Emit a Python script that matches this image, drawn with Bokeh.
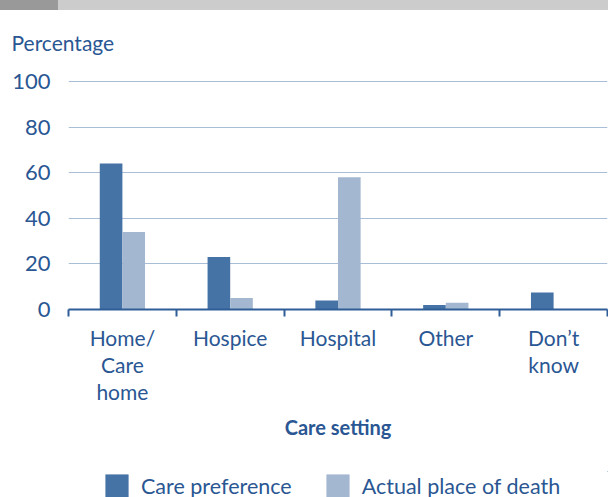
from bokeh.plotting import figure
from bokeh.layouts import column
from bokeh.models import (FixedTicker, Range1d, Legend, LegendItem,
                          ColumnDataSource, Div)
from bokeh.transform import dodge
from bokeh.embed import file_html
from bokeh.resources import INLINE

categories = ["Home/\nCare\nhome", "Hospice", "Hospital", "Other", "Don\u2019t\nknow"]
care_preference = [64, 23, 4, 2, 7.5]
actual_place_of_death = [34, 5, 58, 3, 0]
y_ticks = [0, 20, 40, 60, 80, 100]
series_names = ["Care preference", "Actual place of death"]

DARK = "#4673A5"
LIGHT = "#A3B8D0"
TEXT = "#2A5793"
AXIS = "#2F5E97"
GRID = "#A9BDD7"
FONT = "Lato"

n = len(categories)
centers = [i + 0.5 for i in range(n)]

# decorative strip at the top of the page
strip = Div(width=608, height=10, margin=0, styles={
    "background": "linear-gradient(to right, #999999 0px, #999999 58px, #CCCCCC 58px, #CCCCCC 100%)"})

p = figure(width=608, height=461, output_backend="svg", toolbar_location=None,
           x_range=Range1d(0, n), y_range=Range1d(0, 104.4),
           min_border_left=68, min_border_right=1, min_border_top=61,
           min_border_bottom=162)
p.outline_line_color = None
p.background_fill_color = "white"
p.border_fill_color = "white"

p.title.text = "Percentage"
p.title.align = "left"
p.title.offset = -57
p.title.standoff = 34
p.title.text_font = FONT
p.title.text_font_style = "normal"
p.title.text_font_size = "21px"
p.title.text_color = TEXT

src = ColumnDataSource(dict(x=centers, pref=care_preference, actual=actual_place_of_death))
r1 = p.vbar(x=dodge("x", -0.105), top="pref", width=0.21, source=src,
            fill_color=DARK, line_color=None)
r2 = p.vbar(x=dodge("x", 0.105), top="actual", width=0.21, source=src,
            fill_color=LIGHT, line_color=None)

# x axis
xa = p.xaxis[0]
xa.ticker = FixedTicker(ticks=centers, minor_ticks=list(range(n + 1)))
xa.major_label_overrides = {c: lab for c, lab in zip(centers, categories)}
xa.major_tick_line_color = None
xa.major_tick_in = 0
xa.major_tick_out = 0
xa.minor_tick_in = 0
xa.minor_tick_out = 7
xa.minor_tick_line_color = AXIS
xa.minor_tick_line_width = 2
xa.axis_line_color = AXIS
xa.axis_line_width = 2
xa.major_label_standoff = 8
xa.major_label_text_font = FONT
xa.major_label_text_font_size = "21px"
xa.major_label_text_color = TEXT
xa.major_label_text_line_height = 1.085
xa.axis_label = "Care setting"
xa.axis_label_text_font = FONT
xa.axis_label_text_font_style = "bold"
xa.axis_label_text_font_size = "20px"
xa.axis_label_text_color = TEXT
xa.axis_label_standoff = 8

# y axis
ya = p.yaxis[0]
ya.ticker = FixedTicker(ticks=y_ticks)
ya.axis_line_color = None
ya.major_tick_line_color = None
ya.minor_tick_line_color = None
ya.major_label_standoff = 12
ya.major_label_text_font = FONT
ya.major_label_text_font_size = "22px"
ya.major_label_text_color = TEXT

p.xgrid.visible = False
p.ygrid.grid_line_color = GRID
p.ygrid.grid_line_width = 1.2

# legend strip (same data; the bars fall outside this strip's view, only the legend shows)
pl = figure(width=608, height=26, output_backend="svg", toolbar_location=None,
            x_range=Range1d(-100, -99), y_range=Range1d(-100, -99),
            x_axis_location=None, y_axis_location=None,
            min_border_left=68, min_border_right=1,
            min_border_top=0, min_border_bottom=0)
pl.outline_line_color = None
pl.background_fill_color = "white"
pl.border_fill_color = "white"
pl.grid.visible = False
lr1 = pl.vbar(x=dodge("x", -0.105), top="pref", width=0.21, source=src,
              fill_color=DARK, line_color=None)
lr2 = pl.vbar(x=dodge("x", 0.105), top="actual", width=0.21, source=src,
              fill_color=LIGHT, line_color=None)

legend = Legend(items=[LegendItem(label=series_names[0], renderers=[lr1]),
                       LegendItem(label=series_names[1], renderers=[lr2])],
                orientation="horizontal", location=(34, -3),
                glyph_width=29, glyph_height=29, label_height=22,
                label_standoff=10, spacing=31,
                label_width=150, padding=0, margin=0, border_line_color=None,
                background_fill_alpha=0,
                label_text_font=FONT, label_text_font_size="21.5px",
                label_text_line_height=0.9,
                label_text_color=TEXT)
pl.add_layout(legend)

layout = column(strip, p, pl, spacing=0)
open("out.html", "w").write(file_html(layout, INLINE))
